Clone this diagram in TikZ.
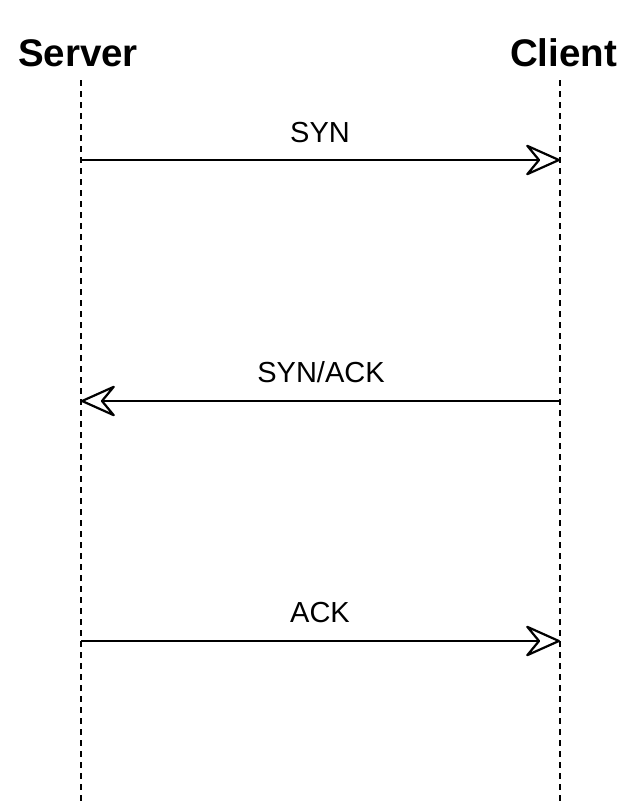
\documentclass[tikz,border=0pt]{standalone}
\usepackage{fontspec}
\setmainfont{Liberation Sans}
\usetikzlibrary{arrows.meta, math}

\begin{document}
\begin{tikzpicture}[x=1pt, y=-1pt,
  lifeline/.style={line width=1.5pt, dash pattern=on 6pt off 5pt},
  msg/.style={line width=2pt, -{Stealth[length=38pt, width=34pt, inset=14pt, fill=white, line width=2.2pt, round]}},
  actor/.style={font=\bfseries\fontsize{38.5}{40}\selectfont, anchor=base, inner sep=0pt},
  msglabel/.style={font=\fontsize{29}{31}\selectfont, anchor=base, inner sep=0pt}]
\tikzmath{
\xs=81;
\xc=560;
\ytop=80;
\ybot=804;
\ya=160;
\yb=401;
\yc=641;
}
\useasboundingbox (0,0) rectangle (642,804);

\node[actor] (server) at (78,66) {Server};
\node[actor] (client) at (563.5,66) {Client};

\coordinate (stop) at (\xs,\ytop);
\coordinate (sbot) at (\xs,\ybot);
\coordinate (ctop) at (\xc,\ytop);
\coordinate (cbot) at (\xc,\ybot);

\draw[lifeline] (stop) -- (sbot);
\draw[lifeline] (ctop) -- (cbot);

\coordinate (s1) at (\xs,\ya);
\coordinate (c1) at (\xc,\ya);
\coordinate (s2) at (\xs,\yb);
\coordinate (c2) at (\xc,\yb);
\coordinate (s3) at (\xs,\yc);
\coordinate (c3) at (\xc,\yc);

\draw[msg] (s1) -- (c1);
\draw[msg] (c2) -- (s2);
\draw[msg] (s3) -- (c3);

\node[msglabel] (syn) at (320,142) {SYN};
\node[msglabel] (synack) at (321,382) {SYN/ACK};
\node[msglabel] (ack) at (320,622) {ACK};
\end{tikzpicture}
\end{document}
